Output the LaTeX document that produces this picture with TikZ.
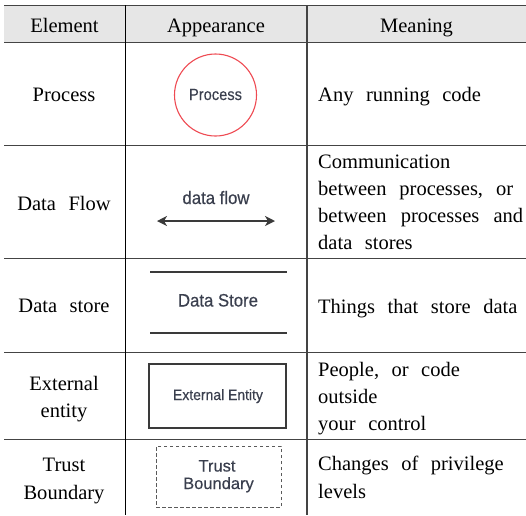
\documentclass[tikz,border=0pt]{standalone}
\usepackage{fontspec}
\setmainfont[WordSpace=2.44]{Liberation Serif}
\newfontfamily\dsans[FakeBold=0.4]{Liberation Sans}
\newfontfamily\dsansn[FakeStretch=0.9,FakeBold=0.4]{Liberation Sans}
\newfontfamily\dsansm[FakeStretch=0.93,FakeBold=0.4]{Liberation Sans}
\usetikzlibrary{arrows.meta}
\definecolor{hdr}{HTML}{E6E6E6}
\definecolor{rulec}{HTML}{444444}
\definecolor{pred}{HTML}{EE4A52}
\definecolor{dtext}{HTML}{3A3F4E}
\definecolor{dline}{HTML}{3A3A3A}
\definecolor{dashc}{HTML}{5A5A5A}
\begin{document}
\begin{tikzpicture}[x=1pt,y=-1pt,
  cell/.style={inner sep=0pt, font=\fontsize{20.5}{27}\selectfont, text=black},
  dia/.style={inner sep=0pt, text=dtext},
  hline/.style={rulec, line width=0.9pt},
  shapeline/.style={dline, line width=1.2pt}]
\useasboundingbox (0,0) rectangle (526,515);
% header background
\fill[hdr] (4,5) rectangle (526,42);
% table rules
\foreach \y in {5,42,145,258,352,439}
  \draw[hline] (4,\y) -- (526,\y);
\draw[black, line width=0.9pt] (125,5) -- (125,515);
\draw[rulec, line width=1.6pt] (307,5) -- (307,515);

% header
\node[cell, anchor=base] (h1) at (64.5,32) {Element};
\node[cell, anchor=base] (h2) at (216,32) {Appearance};
\node[cell, anchor=base] (h3) at (416.5,32) {Meaning};

% element column
\node[cell, anchor=base] (e1) at (64,101) {Process};
\node[cell, anchor=base] (e2) at (64,210) {Data Flow};
\node[cell, anchor=base] (e3) at (64,312) {Data store};
\node[cell, anchor=base] (e4a) at (64,390) {External};
\node[cell, anchor=base] (e4b) at (64,417) {entity};
\node[cell, anchor=base] (e5a) at (64,471) {Trust};
\node[cell, anchor=base] (e5b) at (64,499) {Boundary};

% meaning column
\node[cell, anchor=base west] (m1) at (318,101) {Any running code};
\node[cell, anchor=base west] (m2a) at (318,168) {Communication};
\node[cell, anchor=base west] (m2b) at (318,195) {\makebox[195pt][s]{between processes, or}};
\node[cell, anchor=base west] (m2c) at (318,222) {\makebox[205pt][s]{between processes and}};
\node[cell, anchor=base west] (m2d) at (318,249) {data stores};
\node[cell, anchor=base west] (m3) at (318,313) {Things that store data};
\node[cell, anchor=base west] (m4a) at (318,376) {People, or code};
\node[cell, anchor=base west] (m4b) at (318,403) {outside};
\node[cell, anchor=base west] (m4c) at (318,430) {your control};
\node[cell, anchor=base west] (m5a) at (318,470) {Changes of privilege};
\node[cell, anchor=base west] (m5b) at (318,498) {levels};

% appearance: process
\node[draw=pred, circle, line width=1.1pt, minimum size=82pt, inner sep=0pt] (proc) at (215.5,95) {};
\node[dia, anchor=base, font=\dsansn\fontsize{16.3}{18}\selectfont] (proct) at (215.5,100) {Process};

% appearance: data flow
\node[dia, anchor=base, font=\dsansm\fontsize{18}{20}\selectfont] (dft) at (216,204) {data flow};
\coordinate (dfl) at (157,221);
\coordinate (dfr) at (275,221);
\draw[dline, line width=1.5pt, {Stealth[length=10pt,width=10pt,inset=3pt]}-{Stealth[length=10pt,width=10pt,inset=3pt]}] (dfl) -- (dfr);

% appearance: data store
\coordinate (ds1l) at (150,272);
\coordinate (ds1r) at (287,272);
\coordinate (ds2l) at (150,333);
\coordinate (ds2r) at (287,333);
\draw[shapeline] (ds1l) -- (ds1r);
\draw[shapeline] (ds2l) -- (ds2r);
\node[dia, anchor=base, font=\dsansm\fontsize{18}{20}\selectfont] (dst) at (218,306.5) {Data Store};

% appearance: external entity
\node[draw=dline, line width=1.2pt, rectangle, minimum width=137pt, minimum height=64pt, inner sep=0pt] (ext) at (217.5,396) {};
\node[dia, anchor=base, font=\dsansm\fontsize{15}{17}\selectfont] (extt) at (218,400) {External Entity};

% appearance: trust boundary
\node[draw=dashc, line width=0.8pt, dash pattern=on 3.5pt off 2.5pt, rectangle, minimum width=125pt, minimum height=61pt, inner sep=0pt] (tb) at (218.5,476.5) {};
\node[dia, anchor=base, font=\dsans\fontsize{16.5}{18}\selectfont] (tbt1) at (217,471.5) {Trust};
\node[dia, anchor=base, font=\dsans\fontsize{16.5}{18}\selectfont] (tbt2) at (218.5,489) {Boundary};
\end{tikzpicture}
\end{document}
